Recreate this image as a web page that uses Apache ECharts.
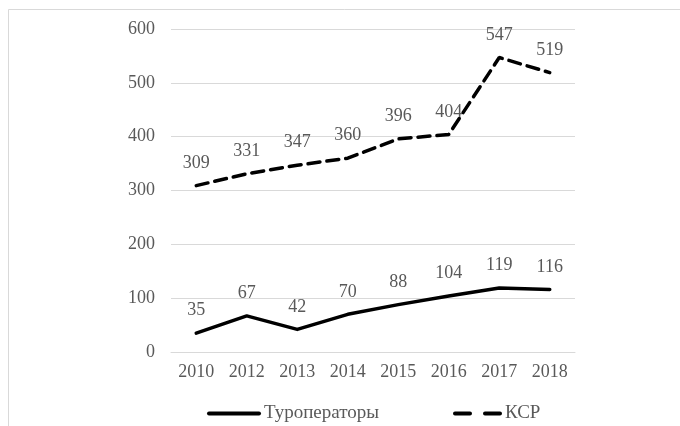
<!DOCTYPE html>
<html><head><meta charset="utf-8">
<script src="https://cdn.jsdelivr.net/npm/echarts@6/dist/echarts.min.js"></script>
<style>html,body{margin:0;padding:0;background:#fff}#c{width:680px;height:426px}</style>
</head><body><div id="c"></div>
<script>
const years = ['2010','2012','2013','2014','2015','2016','2017','2018'];
const tourOperators = [35,67,42,70,88,104,119,116];
const ksr = [309,331,347,360,396,404,547,519];
const yTicks = {min:0, max:600, interval:100};
const names = ['Туроператоры','КСР'];

const font = 'Liberation Serif, Times New Roman, serif';
const txt = '#595959';
const chart = echarts.init(document.getElementById('c'), null, {renderer:'canvas'});
const lbl = {show:true,position:'top',distance:13,fontFamily:font,fontSize:18,color:txt,opacity:1};
chart.setOption({
  animation:false,
  backgroundColor:'#fff',
  graphic:[{type:'rect', shape:{x:8.5,y:9.5,width:700,height:450}, style:{fill:'none',stroke:'#d9d9d9',lineWidth:1}}],
  grid:{left:171,right:105,top:29,bottom:74},
  legend:[
    {data:[names[0]], left:202, top:399, itemWidth:50, itemHeight:14,
     itemStyle:{color:'rgba(0,0,0,0)',borderWidth:0}, lineStyle:{width:4,color:'#000'},
     textStyle:{fontFamily:font,fontSize:19,color:txt}},
    {data:[names[1]], left:448, top:399, itemWidth:45, itemHeight:14,
     itemStyle:{color:'rgba(0,0,0,0)',borderWidth:0}, lineStyle:{type:[15,15],width:4,color:'#000'},
     textStyle:{fontFamily:font,fontSize:19,color:txt}}
  ],
  xAxis:{type:'category',data:years,boundaryGap:true,
    axisLine:{lineStyle:{color:'#d9d9d9',width:1}},axisTick:{show:false},
    axisLabel:{fontFamily:font,fontSize:18,color:txt,margin:11}},
  yAxis:{type:'value',min:yTicks.min,max:yTicks.max,interval:yTicks.interval,
    axisLine:{show:false},axisTick:{show:false},
    splitLine:{lineStyle:{color:'#d9d9d9',width:1}},
    axisLabel:{fontFamily:font,fontSize:18,color:txt,margin:16}},
  series:[
    {name:names[0],type:'line',data:tourOperators,symbol:'circle',symbolSize:1,
     lineStyle:{color:'#000',width:3.5,cap:'round',join:'round'},itemStyle:{color:'rgba(0,0,0,0)'},
     label:lbl},
    {name:names[1],type:'line',data:ksr,symbol:'circle',symbolSize:1,
     lineStyle:{color:'#000',width:3.5,type:[12,7],cap:'round'},itemStyle:{color:'rgba(0,0,0,0)'},
     label:lbl}
  ]
});
</script></body></html>
